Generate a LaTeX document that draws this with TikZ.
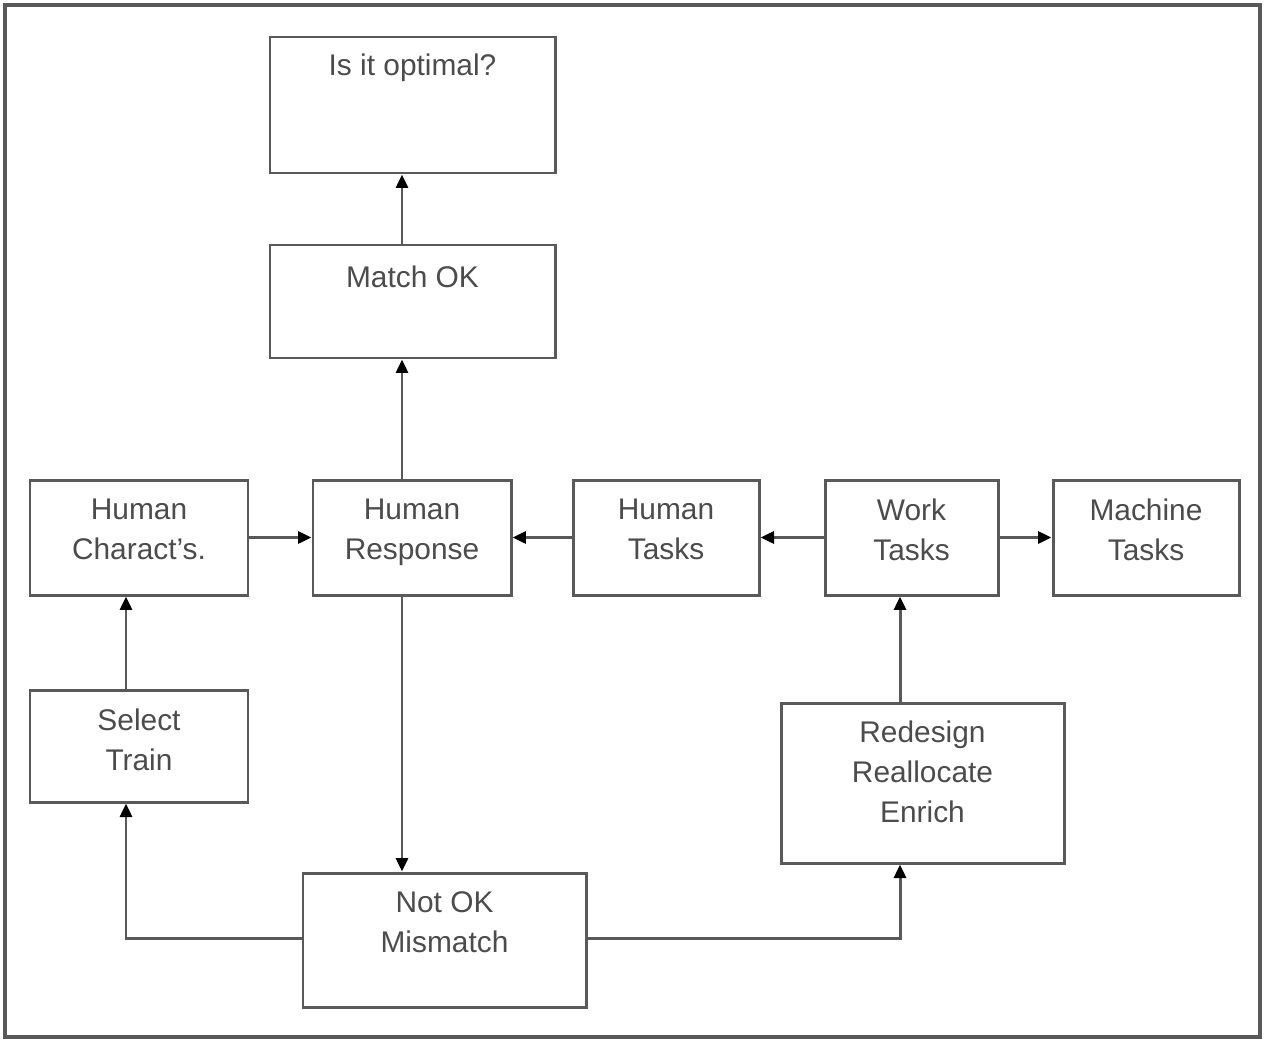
\documentclass[tikz,border=0pt]{standalone}
\usepackage{fontspec}
\setmainfont{Liberation Sans}
\usetikzlibrary{arrows.meta}
\begin{document}
\begin{tikzpicture}[x=0.02cm,y=-0.02cm,
  line width=1.7pt,
  box/.style={draw=black!65, fill=white, inner sep=0pt},
  txt/.style={text=black!70, align=center, inner sep=0pt, anchor=north,
    font=\fontsize{17}{22.76}\selectfont},
  conn/.style={draw=black!65, -{Triangle[length=0.27cm,width=0.24cm,color=black]}},
]
\useasboundingbox (0,0) rectangle (1264,1041);
\draw[black!65, line width=2pt] (5,5) rectangle (1260,1037);

% boxes: corners (x1,y1) (x2,y2)
\newcommand{\mkbox}[7]{%
  \node[box, minimum width={(#4-#2)*0.02cm}, minimum height={(#5-#3)*0.02cm}]
    (#1) at ({(#2+#4)/2},{(#3+#5)/2}) {};
  \node[txt] (#1t) at ({(#2+#4)/2},{#3+#6}) {#7};}

\mkbox{opt}{270}{37}{555}{173}{15}{Is it optimal?}
\mkbox{match}{270}{245}{555}{358}{19}{Match OK}
\mkbox{hc}{30}{480}{248}{595}{17}{Human\\Charact's.}
\mkbox{hr}{313}{480}{511}{595}{17}{Human\\Response}
\mkbox{ht}{573}{480}{759}{595}{17}{Human\\Tasks}
\mkbox{wt}{825}{480}{998}{595}{17}{Work\\Tasks}
\mkbox{mt}{1053}{480}{1239}{595}{17}{Machine\\Tasks}
\mkbox{st}{30}{690}{248}{802}{17}{Select\\Train}
\mkbox{rd}{781}{703}{1064}{863}{16}{Redesign\\Reallocate\\Enrich}
\mkbox{nok}{303}{873}{586}{1007}{17}{Not OK\\Mismatch}

\coordinate (hrx) at (402,0);
\coordinate (wtx) at (900,0);
\coordinate (stx) at (126,0);

\draw[conn] (match.north -| hrx) -- (opt.south -| hrx);
\draw[conn] (hr.north -| hrx) -- (match.south -| hrx);
\draw[conn] (hc.east) -- (hr.west);
\draw[conn] (ht.west) -- (hr.east);
\draw[conn] (wt.west) -- (ht.east);
\draw[conn] (wt.east) -- (mt.west);
\draw[conn] (st.north -| stx) -- (hc.south -| stx);
\draw[conn] (rd.north -| wtx) -- (wt.south -| wtx);
\draw[conn] (hr.south -| hrx) -- (nok.north -| hrx);
\draw[conn] (nok.west |- 0,938) -| (st.south -| stx);
\draw[conn] (nok.east |- 0,938) -| (rd.south -| wtx);
\end{tikzpicture}
\end{document}
